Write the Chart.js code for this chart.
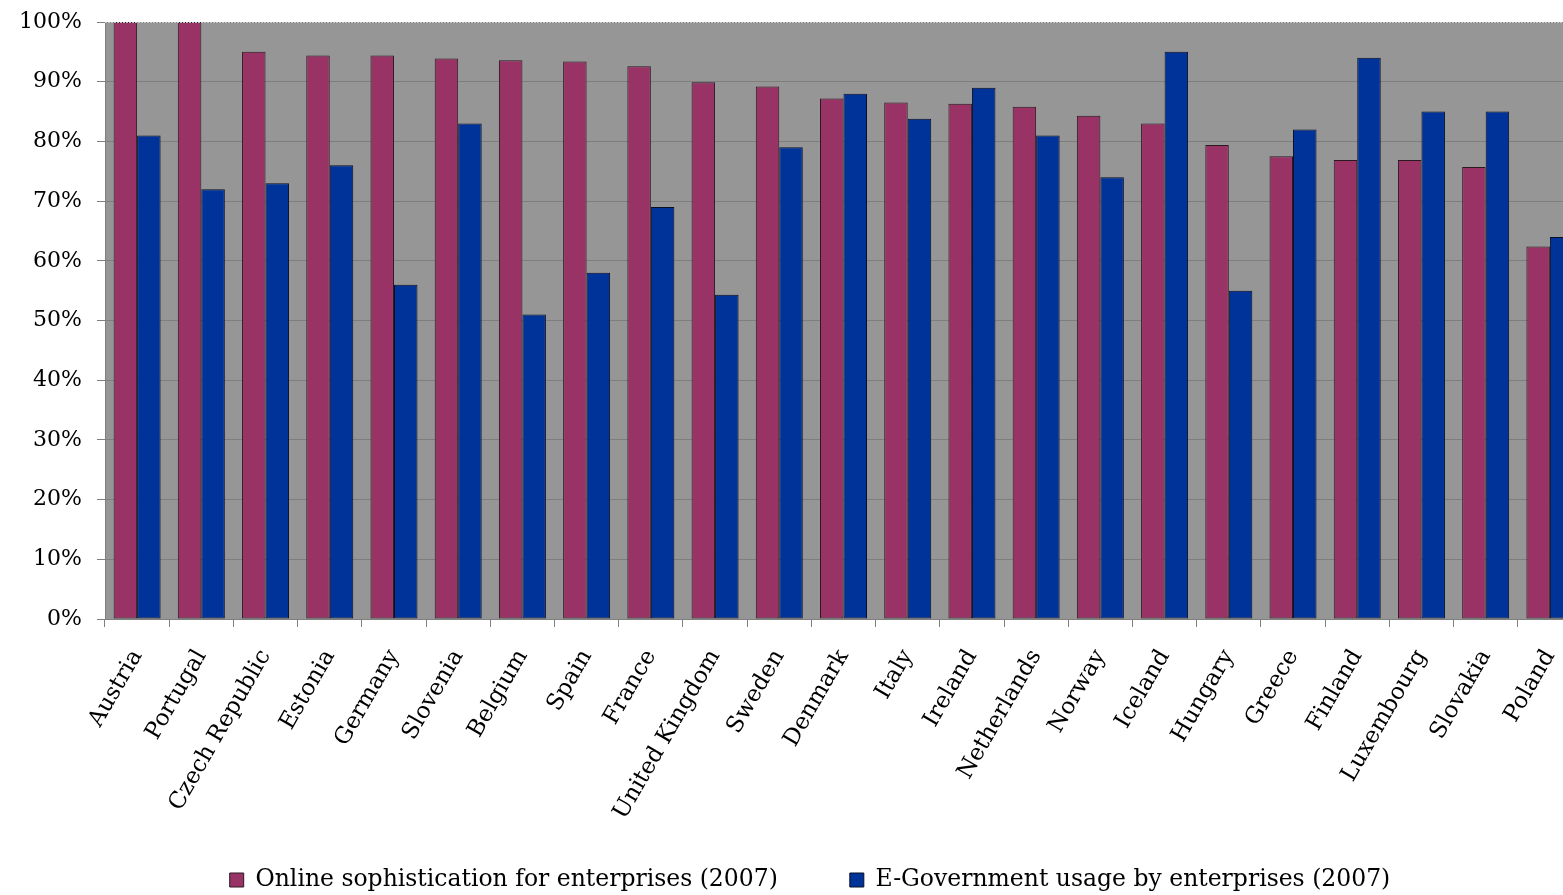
<!DOCTYPE html>
<html>
<head>
<meta charset="utf-8">
<script src="https://cdn.jsdelivr.net/npm/chart.js@4/dist/chart.umd.min.js"></script>
<style>
  html, body { margin: 0; padding: 0; background: #ffffff; overflow: hidden; }
  #wrap { position: absolute; left: 0; top: 0; width: 1590px; height: 895px; }
</style>
</head>
<body>
<div id="wrap"><canvas id="c" width="1590" height="895"></canvas></div>
<script>
// Countries, ordered by online sophistication score
const countries = ['Austria', 'Portugal', 'Czech Republic', 'Estonia', 'Germany', 'Slovenia',
  'Belgium', 'Spain', 'France', 'United Kingdom', 'Sweden', 'Denmark', 'Italy', 'Ireland',
  'Netherlands', 'Norway', 'Iceland', 'Hungary', 'Greece', 'Finland', 'Luxembourg',
  'Slovakia', 'Poland'];

// Online sophistication of public services for enterprises, 2007 (%)
const sophistication = [100, 100, 95, 94.4, 94.4, 93.9, 93.6, 93.4, 92.6, 89.9, 89.2, 87.2,
  86.5, 86.3, 85.8, 84.3, 83, 79.4, 77.5, 76.9, 76.9, 75.7, 62.4];

// Share of enterprises using e-government, 2007 (%)
const usage = [81, 72, 73, 76, 56, 83, 51, 58, 69, 54.3, 79, 88, 83.8, 89, 81, 74, 95,
  55, 82, 94, 85, 85, 64];

const seriesNames = ['Online sophistication for enterprises (2007)',
  'E-Government usage by enterprises (2007)'];

const yTicks = [0, 10, 20, 30, 40, 50, 60, 70, 80, 90, 100];

const LEGEND_PAD = 72;
const LEGEND_FONT = 23.5;
const LEFT_PAD = 38;

const plotBackground = {
  id: 'plotBackground',
  beforeDraw(chart) {
    const { ctx, chartArea: a } = chart;
    ctx.save();
    ctx.fillStyle = '#969696';
    ctx.fillRect(a.left, a.top, a.right - a.left, a.bottom - a.top);
    ctx.restore();
  },
  afterDraw(chart) {
    const { ctx, chartArea: a } = chart;
    ctx.save();
    ctx.strokeStyle = '#c8c8c8';
    ctx.lineWidth = 1;
    ctx.setLineDash([2, 1]);
    ctx.beginPath();
    ctx.moveTo(a.left, a.top + 0.5);
    ctx.lineTo(a.right, a.top + 0.5);
    ctx.stroke();
    ctx.restore();
  }
};

new Chart(document.getElementById('c'), {
  type: 'bar',
  data: {
    labels: countries,
    datasets: [
      {
        label: seriesNames[0],
        data: sophistication,
        backgroundColor: '#993366',
        borderColor: '#2a1a20',
        borderWidth: 1,
        borderSkipped: false
      },
      {
        label: seriesNames[1],
        data: usage,
        backgroundColor: '#003399',
        borderColor: '#0a0f24',
        borderWidth: 1,
        borderSkipped: false
      }
    ]
  },
  options: {
    responsive: false,
    animation: false,
    devicePixelRatio: 1,
    layout: { padding: { left: LEFT_PAD, right: 8, top: 22, bottom: 0 } },
    datasets: { bar: { categoryPercentage: 0.732, barPercentage: 1.0 } },
    plugins: {
      legend: {
        position: 'bottom',
        // legend row sits with its text centred on y = 880
        maxHeight: 895 - (880 - LEGEND_FONT / 2 - LEGEND_PAD),
        labels: {
          boxWidth: 14,
          boxHeight: 14,
          padding: LEGEND_PAD,
          color: '#000000',
          font: { family: 'DejaVu Serif', size: LEGEND_FONT }
        }
      },
      tooltip: { enabled: false }
    },
    scales: {
      x: {
        afterFit(scale) {
          scale.height = (880 - LEGEND_FONT / 2 - LEGEND_PAD) - 619;
          scale.paddingLeft = 0;
          scale.paddingRight = 0;
          // let the long rotated country names run below the axis box
          scale._computeLabelArea = () => undefined;
        },
        grid: {
          offset: true,
          drawOnChartArea: false,
          drawTicks: true,
          tickLength: 8,
          color: '#808080'
        },
        border: { display: true, color: '#808080' },
        ticks: {
          autoSkip: false,
          minRotation: 60,
          maxRotation: 60,
          padding: 18,
          color: '#000000',
          font: { family: 'DejaVu Serif', size: 23 }
        }
      },
      y: {
        min: 0,
        max: 100,
        afterFit(scale) {
          scale.width = 105 - LEFT_PAD;
          scale.paddingTop = 0;
          scale.paddingBottom = 0;
          // percentage labels may extend into the left margin
          scale._computeLabelArea = () => undefined;
        },
        afterBuildTicks(scale) { scale.ticks = yTicks.map(v => ({ value: v })); },
        grid: { color: '#7e7e7e', tickLength: 8, lineWidth: 1 },
        border: { display: true, color: '#808080' },
        ticks: {
          padding: 15,
          color: '#000000',
          font: { family: 'DejaVu Serif', size: 22 },
          callback: v => v + '%'
        }
      }
    }
  },
  plugins: [plotBackground]
});
</script>
</body>
</html>
